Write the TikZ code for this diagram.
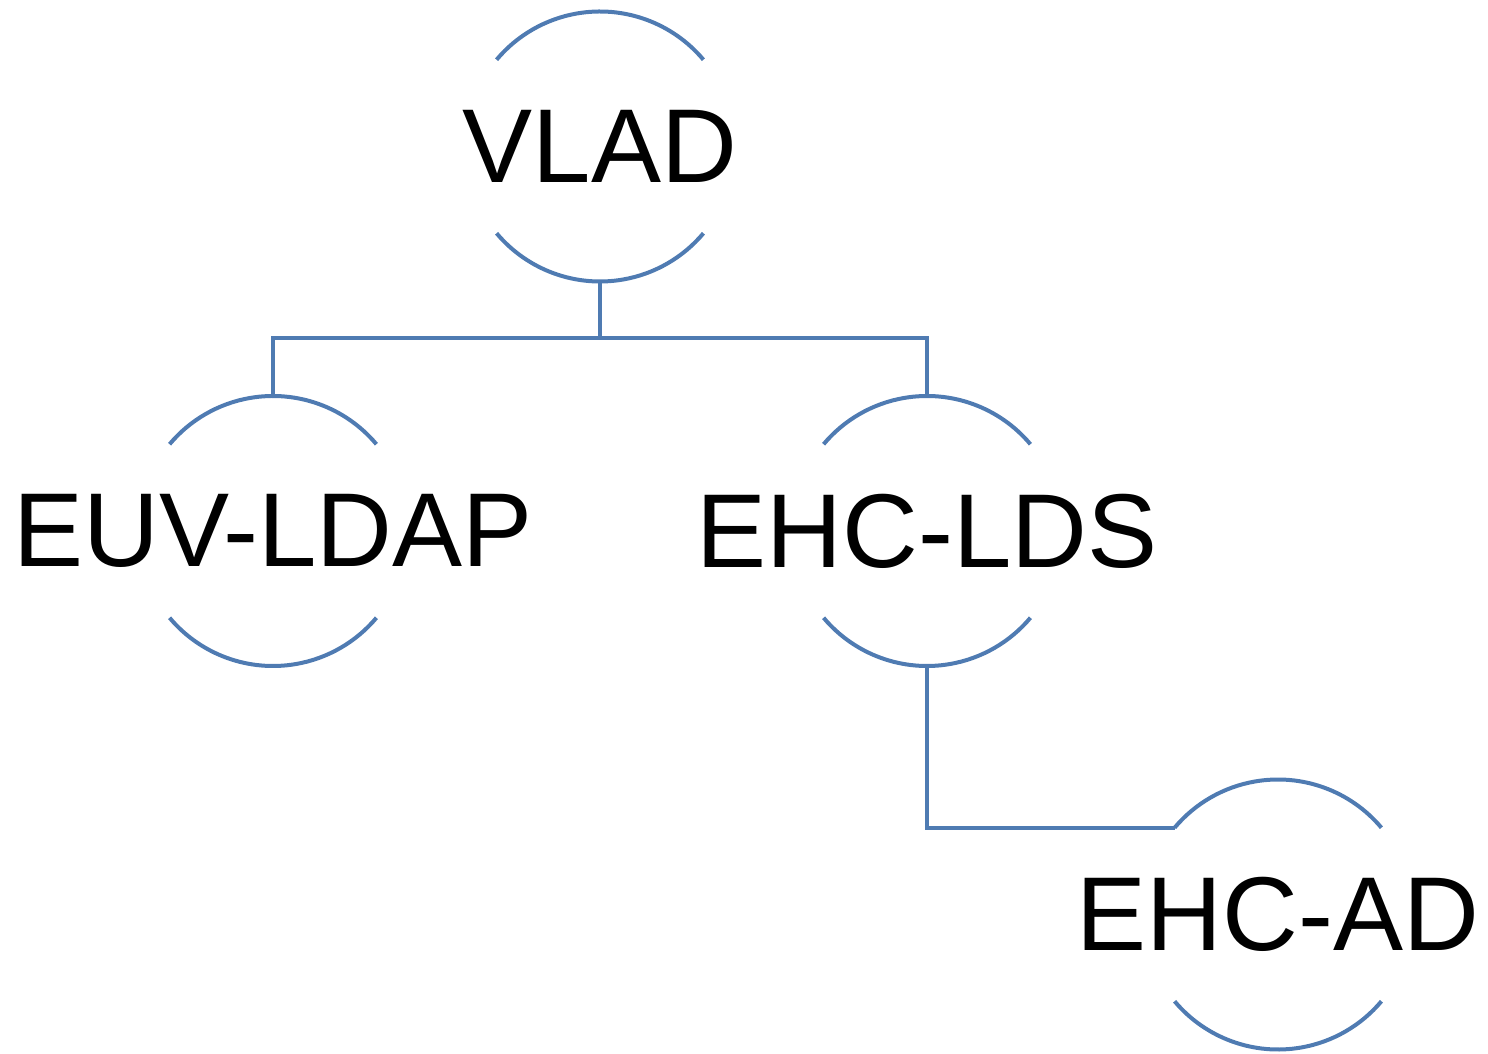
\documentclass[tikz,border=0pt]{standalone}
\usepackage{fontspec}
\setmainfont{Liberation Sans}
\definecolor{lc}{RGB}{79,123,178}
\begin{document}
\begin{tikzpicture}[x=1pt,y=1pt,
  ring/.style={circle, minimum size=270pt, inner sep=0pt, outer sep=0pt},
  lbl/.style={font=\fontsize{105}{120}\selectfont, inner sep=0pt, outer sep=0pt},
  conn/.style={draw=lc, line width=4pt}]
\useasboundingbox (0,0) rectangle (1488,1053);
\node[ring] (vlad) at (600,906.5) {};
\node[ring] (euv) at (273,522) {};
\node[ring] (lds) at (927,522) {};
\node[ring] (ad) at (1278,138.5) {};
\node[lbl] (vladt) at (vlad.center) {VLAD};
\node[lbl] (euvt) at (euv.center) {EUV-LDAP};
\node[lbl] (ldst) at (lds.center) {EHC-LDS};
\node[lbl] (adt) at (ad.center) {EHC-AD};
\foreach \n in {vlad,euv,lds,ad} {
  \draw[conn] (\n.40) arc[start angle=40,end angle=140,radius=135pt];
  \draw[conn] (\n.220) arc[start angle=220,end angle=320,radius=135pt];
}
\coordinate (j) at (600,715);
\draw[conn] (vlad.south) -- (j);
\draw[conn] (euv.north) |- (j) -| (lds.north);
\draw[conn] (lds.south) |- (ad.140);
\end{tikzpicture}
\end{document}
